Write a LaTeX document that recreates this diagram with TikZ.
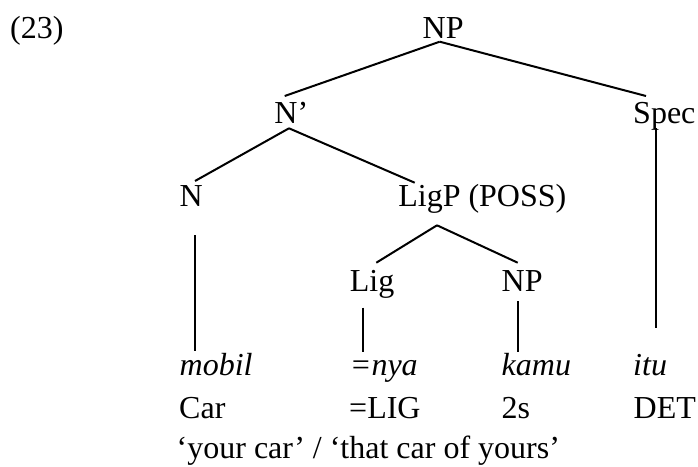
\documentclass[tikz,border=0pt]{standalone}
\usepackage{fontspec}
\setmainfont{Liberation Serif}
\begin{document}
\begin{tikzpicture}[x=1pt,y=-1pt,
  lab/.style={anchor=base west,inner sep=0pt,font=\fontsize{32}{38}\selectfont},
  br/.style={line width=2pt}]
\useasboundingbox (0,0) rectangle (698,466);
% labels
\node[lab] (ex)   at (10,38.8)    {(23)};
\node[lab] (NPt)  at (422.5,38.3) {NP};
\node[lab] (Nbar) at (274.2,123.3){N’};
\node[lab] (Spec) at (633,123.3)  {Spec};
\node[lab] (N)    at (179.5,206)  {N};
\node[lab] (LigP) at (398.1,206)  {LigP (POSS)};
\node[lab] (Lig)  at (349.7,291)  {Lig};
\node[lab] (NPl)  at (501.5,291)  {NP};
\node[lab] (mobil) at (179.5,375.3) {\itshape mobil};
\node[lab] (nya)  at (349.7,375.3) {\itshape =nya};
\node[lab] (kamu) at (501.5,375.3) {\itshape kamu};
\node[lab] (itu)  at (633,375.3)   {\itshape itu};
\node[lab] (car)  at (179,418.7)   {Car};
\node[lab] (lig)  at (349,418.7)   {=LIG};
\node[lab] (two)  at (501.5,418.7) {2s};
\node[lab] (det)  at (633.5,418.7) {DET};
\node[lab] (gloss) at (176.5,458.7) {‘your car’ / ‘that car of yours’};
% branches
\draw[br] ([shift={(17.2,3.4)}]NPt.base west) -- ([shift={(10.5,-27.3)}]Nbar.base west);
\draw[br] ([shift={(17.2,3.4)}]NPt.base west) -- ([shift={(13,-27.3)}]Spec.base west);
\draw[br] ([shift={(14.8,5)}]Nbar.base west) -- ([shift={(15.5,-25)}]N.base west);
\draw[br] ([shift={(14.8,5)}]Nbar.base west) -- ([shift={(16.6,-23.3)}]LigP.base west);
\draw[br] ([shift={(15.5,29.3)}]N.base west) -- ([shift={(15.5,-24)}]mobil.base west);
\draw[br] ([shift={(38.9,19.3)}]LigP.base west) -- ([shift={(26.6,-28.3)}]Lig.base west);
\draw[br] ([shift={(38.9,19.3)}]LigP.base west) -- ([shift={(16.2,-28.3)}]NPl.base west);
\draw[br] ([shift={(13.3,16.7)}]Lig.base west) -- ([shift={(13.3,-23.3)}]nya.base west);
\draw[br] ([shift={(16.2,10)}]NPl.base west) -- ([shift={(16.2,-23.3)}]kamu.base west);
\draw[br] ([shift={(23,5)}]Spec.base west) -- ([shift={(23,-47.3)}]itu.base west);
\end{tikzpicture}
\end{document}
